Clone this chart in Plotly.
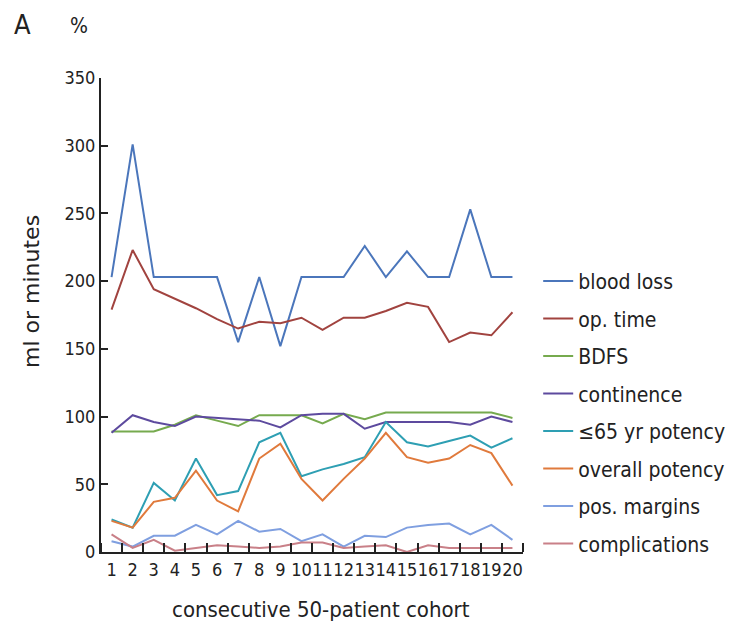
import plotly.graph_objects as go

# consecutive 50-patient cohorts
cohorts = list(range(1, 21))

blood_loss = [203, 301, 203, 203, 203, 203, 155, 203, 152, 203,
              203, 203, 226, 203, 222, 203, 203, 253, 203, 203]
op_time = [179, 223, 194, 187, 180, 172, 165, 170, 169, 173,
           164, 173, 173, 178, 184, 181, 155, 162, 160, 177]
bdfs = [89, 89, 89, 94, 101, 97, 93, 101, 101, 101,
        95, 102, 98, 103, 103, 103, 103, 103, 103, 99]
continence = [88, 101, 96, 93, 100, 99, 98, 97, 92, 101,
              102, 102, 91, 96, 96, 96, 96, 94, 100, 96]
potency_65 = [24, 18, 51, 38, 69, 42, 45, 81, 88, 56,
              61, 65, 70, 96, 81, 78, 82, 86, 77, 84]
potency_all = [23, 18, 37, 40, 60, 38, 30, 69, 80, 54,
               38, 54, 69, 88, 70, 66, 69, 79, 73, 49]
pos_margins = [8, 4, 12, 12, 20, 13, 23, 15, 17, 8,
               13, 4, 12, 11, 18, 20, 21, 13, 20, 9]
complications = [13, 3, 9, 1, 3, 5, 4, 3, 4, 7,
                 7, 3, 4, 5, 0, 5, 3, 3, 3, 3]

series = [
    ("blood loss", blood_loss, "#4b76bb"),
    ("op. time", op_time, "#a1433f"),
    ("BDFS", bdfs, "#76aa4e"),
    ("continence", continence, "#5d4a9e"),
    ("\u226465 yr potency", potency_65, "#2e9fb3"),
    ("overall potency", potency_all, "#e07a3c"),
    ("pos. margins", pos_margins, "#7f9fe0"),
    ("complications", complications, "#c98088"),
]

TEXT_FONT = "DejaVu Sans Condensed, DejaVu Sans, sans-serif"

fig = go.Figure()
for name, vals, color in series:
    fig.add_trace(go.Scatter(
        x=cohorts, y=vals, name=name, mode="lines",
        line=dict(color=color, width=2),
        legendgroup=name,
    ))

fig.update_layout(
    width=734, height=636,
    margin=dict(l=101, r=211, t=77.5, b=84, autoexpand=False),
    paper_bgcolor="white", plot_bgcolor="white",
    showlegend=True,
    legend=dict(
        x=1.036, xanchor="left", y=0.614, yanchor="top",
        font=dict(family=TEXT_FONT, size=21, color="#222"),
        tracegroupgap=7.2, itemwidth=30, bgcolor="rgba(0,0,0,0)",
    ),
    xaxis=dict(
        range=[0.5, 20.5], showgrid=False, zeroline=False,
        showline=True, linecolor="#222", linewidth=2,
        tickmode="array", tickvals=cohorts,
        ticktext=[str(c) for c in cohorts], tickangle=0,
        ticks="", tickfont=dict(family=TEXT_FONT, size=18, color="#222"),
        minor=dict(tickmode="array",
                   tickvals=[c + 0.5 for c in range(0, 21)],
                   ticks="inside", ticklen=9, tickwidth=2, tickcolor="#222"),
    ),
    yaxis=dict(
        range=[0, 350], showgrid=False, zeroline=False,
        showline=True, linecolor="#222", linewidth=2,
        tickmode="array", tickvals=[0, 50, 100, 150, 200, 250, 300, 350],
        ticks="inside", ticklen=7, tickwidth=2, tickcolor="#222",
        tickfont=dict(family=TEXT_FONT, size=18, color="#222"),
    ),
)

fig.add_annotation(text="ml or minutes", textangle=-90, showarrow=False,
                   xref="paper", yref="paper", x=-0.163, y=0.549,
                   xanchor="center", yanchor="middle",
                   font=dict(family="DejaVu Sans, sans-serif", size=22,
                             color="#222"))
fig.add_annotation(text="consecutive 50-patient cohort", showarrow=False,
                   xref="paper", yref="paper", x=0.521, y=-0.122,
                   xanchor="center", yanchor="middle",
                   font=dict(family=TEXT_FONT, size=22, color="#222"))
fig.add_annotation(text="A", showarrow=False,
                   xref="paper", yref="paper", x=-0.186, y=1.113,
                   xanchor="center", yanchor="middle",
                   font=dict(family=TEXT_FONT, size=27, color="#222"))
fig.add_annotation(text="%", showarrow=False,
                   xref="paper", yref="paper", x=-0.052, y=1.109,
                   xanchor="center", yanchor="middle",
                   font=dict(family=TEXT_FONT, size=21, color="#222"))

fig.write_html("out.html")
